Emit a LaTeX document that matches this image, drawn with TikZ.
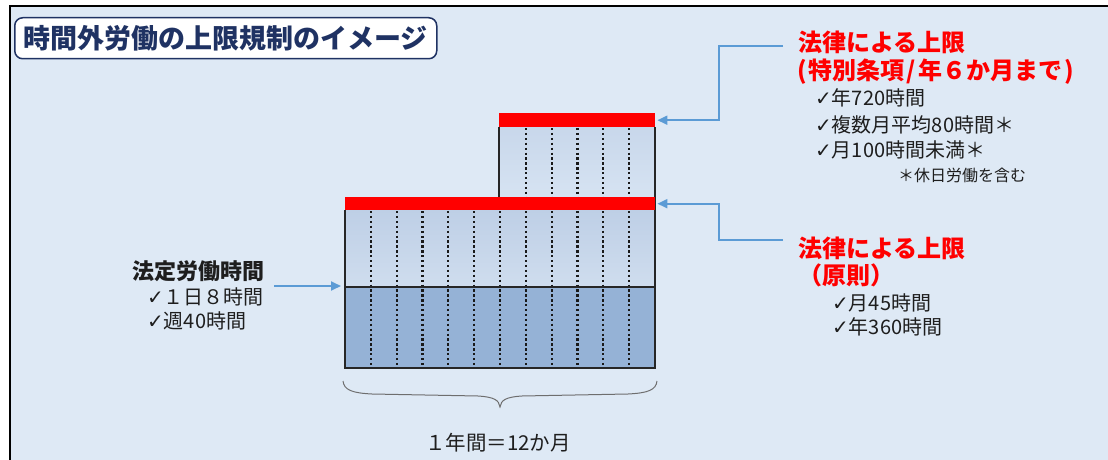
\documentclass[tikz,border=0pt]{standalone}
\usepackage{fontspec}
\setmainfont{Noto Sans CJK JP}
\newfontfamily\djv{DejaVu Sans}
\usetikzlibrary{arrows.meta}
\definecolor{bg}{RGB}{222,233,245}
\definecolor{navy}{RGB}{31,50,99}
\definecolor{arrowblue}{RGB}{91,155,213}
\definecolor{bandtop}{RGB}{190,207,230}
\definecolor{bandbot}{RGB}{207,221,238}
\definecolor{boxtop}{RGB}{200,215,235}
\definecolor{boxbot}{RGB}{214,227,242}
\definecolor{darkband}{RGB}{149,178,214}
\definecolor{capred}{RGB}{255,0,0}
\definecolor{txt}{RGB}{30,30,30}
\definecolor{bracegray}{RGB}{110,110,110}
\newcommand{\ck}{{\djv ✓}}
\tikzset{
  redhead/.style={anchor=west, inner sep=0pt, text=capred, font=\bfseries\fontsize{24}{26}\selectfont},
  item/.style={anchor=west, inner sep=0pt, text=txt, font=\fontsize{20}{24}\selectfont},
  smallnote/.style={anchor=west, inner sep=0pt, text=txt, font=\fontsize{16}{19}\selectfont},
  capbar/.style={fill=capred, draw=none, inner sep=0pt, anchor=north west},
  dotline/.style={line width=2.3pt, dash pattern=on 2.3pt off 2.6pt, black!90},
  outline/.style={line width=1.6pt, black!85},
  bluearrow/.style={draw=arrowblue, line width=1.8pt, -{Triangle[length=10pt,width=9pt]}},
}
\begin{document}
\begin{tikzpicture}[x=1pt,y=-1pt]
\useasboundingbox (0,0) rectangle (1108,460);
\fill[bg] (10,6) rectangle (1108,460);
\draw[line width=1.2pt] (10,460) -- (10,6) -- (1108,6);

% title
\node[draw=navy, line width=1.5pt, fill=white, rounded corners=8pt, minimum width=422pt,
  minimum height=41pt, anchor=north west, inner sep=0pt, text=navy,
  font=\bfseries\fontsize{27}{30}\selectfont] (title) at (14,17) {時間外労働の上限規制のイメージ};

% chart bodies
\shade[top color=boxtop, bottom color=boxbot] (499,127) rectangle (655,197);
\shade[top color=bandtop, bottom color=bandbot] (345,210) rectangle (655,287);
\fill[darkband] (345,287) rectangle (655,368);
\foreach \k in {1,...,11} \draw[dotline] ({345+\k*310/12},211) -- ({345+\k*310/12},367);
\foreach \k in {7,...,11} \draw[dotline] ({345+\k*310/12},128) -- ({345+\k*310/12},197);
\draw[outline] (345,210) -- (345,368) -- (655,368) -- (655,127);
\draw[outline] (499,127) -- (499,197);
\draw[line width=2.6pt, black!85] (345,287) -- (655,287);
\node[capbar, minimum width=310pt, minimum height=13pt] (cap1) at (345,197) {};
\node[capbar, minimum width=156pt, minimum height=14pt] (cap2) at (499,113) {};
\coordinate (basemid) at (345,286);

% brace
\draw[bracegray, line width=1pt] (343,381) .. controls (344,390) and (352,393) .. (372,394)
  -- (478,396) .. controls (494,397) and (499,400) .. (500,407)
  .. controls (501,400) and (506,397) .. (522,396) -- (628,394)
  .. controls (648,393) and (656,390) .. (657,381);
\node[anchor=center, inner sep=0pt, text=txt, font=\fontsize{20.5}{24}\selectfont] (year) at (498,443) {１年間＝12か月};

% left text
\node[anchor=west, inner sep=0pt, text=txt, font=\bfseries\fontsize{22}{26}\selectfont] (lawhead) at (132,271) {法定労働時間};
\node[item] (day8) at (147,297) {\ck １日８時間};
\node[item] (week40) at (147,321) {\ck 週40時間};
\draw[bluearrow, shorten >=4pt] ([xshift=10pt]day8.east |- basemid) -- (basemid);

% upper right text
\node[redhead] (lim1) at (798,42) {法律による上限};
\node[redhead] (lim1b) at (797,72) {(\hspace{2pt}特別条項\hspace{2pt}/\hspace{2pt}年６か月まで\hspace{2pt})};
\node[item] (i720) at (815,98) {\ck 年720時間};
\node[item] (i80) at (815,125) {\ck 複数月平均80時間＊};
\node[item] (i100) at (815,150) {\ck 月100時間未満＊};
\node[smallnote] (note) at (898,175) {＊休日労働を含む};
\coordinate (a1) at (783,46);
\draw[bluearrow, shorten >=2pt] (a1) -- (719,46) |- (cap2.east);

% lower right text
\node[redhead] (lim2) at (798,248) {法律による上限};
\node[redhead] (lim2b) at (798,275) {（原則）};
\node[item] (i45) at (832,303) {\ck 月45時間};
\node[item] (i360) at (832,327) {\ck 年360時間};
\coordinate (a2) at (783,240);
\draw[bluearrow, shorten >=2pt] (a2) -- (719,240) |- (cap1.east);
\end{tikzpicture}
\end{document}
